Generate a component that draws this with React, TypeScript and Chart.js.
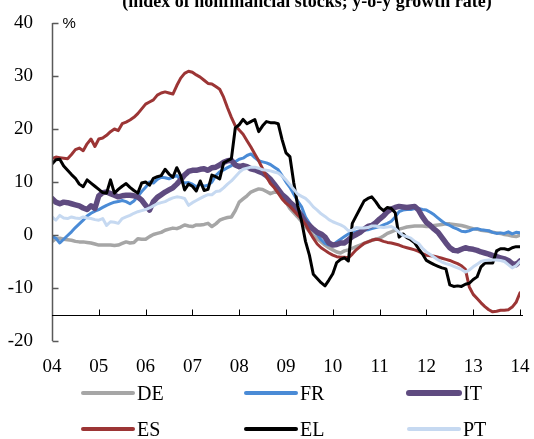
import React, { useEffect, useRef } from "react";
import { Chart, registerables } from "chart.js";

Chart.register(...registerables);

const TITLE = "(index of nonfinancial stocks; y-o-y growth rate)";
const UNIT = "%";
const START_YEAR = 2004;
const X_TICK_LABELS = ["04", "05", "06", "07", "08", "09", "10", "11", "12", "13", "14"];
const Y_MIN = -20;
const Y_MAX = 40;
const Y_STEP = 10;
const X_AXIS_AT = -15;

// Monthly values, Jan 2004 ... Jan 2014
const DE = [
  -1.25, -0.7, -0.6, -0.8, -0.9, -1.0, -1.2, -1.3, -1.3, -1.4, -1.5, -1.7,
  -1.9, -1.9, -1.9, -1.9, -2.0, -1.9, -1.6, -1.3, -1.5, -1.4, -0.7, -0.8,
  -0.8, -0.3, 0.1, 0.3, 0.5, 0.9, 1.1, 1.3, 1.2, 1.5, 1.9, 1.7,
  1.6, 1.9, 1.9, 2.0, 2.2, 1.6, 2.1, 2.8, 3.1, 3.3, 3.4, 4.6,
  6.2, 6.8, 7.4, 8.1, 8.4, 8.7, 8.6, 8.2, 7.8, 8.1, 8.0, 7.2,
  6.2, 5.0, 4.2, 3.4, 2.5, 1.6, 0.7, -0.1, -0.7, -1.3, -1.9, -2.4,
  -2.8, -3.2, -3.4, -3.0, -2.8, -2.5, -2.2, -1.9, -1.6, -1.3, -1.0, -0.8,
  -0.6, -0.2, 0.3, 0.6, 0.9, 1.1, 1.3, 1.5, 1.6, 1.7, 1.7, 1.7,
  1.6, 1.6, 1.8, 1.9, 2.0, 2.1, 2.1, 2.0, 1.9, 1.8, 1.6, 1.4,
  1.2, 1.1, 0.9, 0.8, 0.7, 0.5, 0.4, 0.3, 0.1, 0.0, -0.2, -0.3,
  0.0,
];
const FR = [
  -0.3, -0.6, -1.5, -0.8, -0.1, 0.6, 1.4, 2.1, 2.8, 3.6, 4.1, 4.5,
  4.8, 5.2, 5.6, 5.9, 6.2, 6.3, 6.5, 6.3, 5.9, 6.4, 7.3, 8.2,
  9.0, 10.0, 9.8, 10.5, 10.9, 10.8, 10.6, 10.9, 11.2, 10.4, 9.8, 9.9,
  9.6, 9.1, 9.6, 9.2, 9.4, 10.0, 11.2, 11.9, 12.3, 12.7, 13.1, 13.8,
  14.3, 14.5, 15.0, 15.3, 14.6, 14.0, 13.8, 13.6, 13.3, 12.8, 12.3, 11.2,
  10.0, 9.0, 7.7, 6.4, 5.3, 3.4, 2.2, 1.0, 0.1, -0.9, -1.6, -1.9,
  -1.9, -1.3, -0.8, -0.3, 0.2, 0.5, 0.6, 0.8, 0.9, 1.0, 1.2, 1.4,
  1.6, 1.9, 2.2, 2.6, 3.4, 4.4, 4.7, 4.8, 4.8, 5.0, 5.0, 4.8,
  4.7, 4.3, 3.8, 3.2, 2.6, 2.1, 1.8, 1.4, 1.1, 0.7, 0.6, 0.8,
  1.1, 1.2, 1.0, 0.9, 0.8, 0.5, 0.3, 0.4, 0.3, 0.6, 0.2, 0.5,
  0.4,
];
const IT = [
  6.9, 6.2, 5.9, 6.2, 6.1, 5.9, 5.7, 5.5, 5.1, 4.8, 5.5, 5.0,
  7.4, 8.0, 8.1, 7.8, 7.5, 7.2, 7.4, 7.5, 7.5, 7.4, 7.2, 6.6,
  5.6, 4.7, 6.3, 7.1, 7.6, 8.1, 8.5, 8.9, 9.6, 10.4, 11.3, 12.0,
  12.2, 12.2, 12.4, 12.5, 12.2, 12.7, 12.8, 13.2, 13.7, 14.0, 14.1, 13.2,
  12.9, 13.1, 12.9, 12.5, 12.3, 12.0, 11.7, 11.2, 10.5, 9.6, 8.6, 7.6,
  7.0, 6.2, 5.5, 4.6, 3.6, 2.4, 1.8, 1.1, 0.5, 0.2, -0.4, -1.5,
  -1.9, -1.8, -1.5, -1.5, -0.9, -0.3, 0.1, 0.5, 1.1, 1.6, 1.8, 2.3,
  3.0, 3.6, 4.4, 4.9, 5.2, 5.4, 5.3, 5.2, 5.3, 5.4, 4.7, 3.4,
  2.4, 1.8, 1.1, 0.5, -0.5, -1.5, -2.4, -2.9, -3.0, -2.7, -2.4, -2.6,
  -2.7, -2.9, -3.2, -3.4, -3.6, -3.9, -4.1, -4.3, -4.5, -4.8, -5.4, -5.6,
  -4.9,
];
const ES = [
  14.4, 14.7, 14.6, 14.5, 14.4, 15.2, 16.1, 16.4, 15.9, 17.2, 18.1, 16.7,
  18.1, 18.3, 18.8, 19.5, 20.0, 19.7, 21.0, 21.3, 21.7, 22.2, 22.9, 23.8,
  24.7, 25.1, 25.5, 26.4, 26.8, 27.0, 26.8, 26.6, 28.2, 29.6, 30.5, 30.9,
  30.7, 30.2, 29.8, 29.2, 28.6, 28.5, 28.0, 27.5, 26.0, 24.0, 22.2, 20.6,
  19.8, 19.0, 17.8, 16.6, 15.3, 14.0, 12.5, 11.0, 9.7, 8.9, 7.9, 6.8,
  6.0, 5.4, 4.6, 3.8, 3.0, 2.0, 0.6, -0.6, -1.7, -2.4, -2.9, -3.4,
  -3.8, -4.1, -4.2, -4.2, -4.3, -3.6, -2.8, -2.2, -1.6, -1.3, -1.0, -0.8,
  -0.9, -1.2, -1.4, -1.5, -1.7, -1.9, -2.2, -2.4, -2.6, -2.8, -3.1, -3.5,
  -3.8, -3.9, -4.0, -4.2, -4.4, -4.6, -4.8, -5.1, -5.4, -5.8, -6.5, -9.8,
  -11.2, -12.0, -12.8, -13.5, -14.1, -14.5, -14.4, -14.2, -14.2, -14.1, -13.6, -12.7,
  -10.9,
];
const EL = [
  13.4, 14.2, 14.3, 13.0, 12.2, 11.4, 10.7, 9.6, 9.1, 10.4, 9.8, 9.2,
  8.6, 8.0, 7.9, 10.4, 7.9, 8.6, 9.2, 9.7, 9.0, 8.4, 7.9, 9.8,
  10.0, 9.4, 10.7, 11.0, 11.2, 12.4, 11.5, 10.9, 12.7, 11.2, 8.5, 9.6,
  9.2, 8.3, 10.2, 8.4, 8.6, 11.3, 11.0, 10.6, 13.6, 14.0, 14.4, 20.2,
  20.8, 21.8, 21.0, 21.4, 21.8, 19.5, 20.6, 21.4, 21.2, 21.2, 21.0, 18.0,
  15.5, 14.8, 9.8, 5.5, 2.6, -1.2, -3.8, -7.4, -8.2, -9.0, -9.6, -8.5,
  -7.3, -5.2, -4.6, -4.3, -4.9, 2.2, 3.6, 5.0, 6.4, 6.9, 7.2, 6.3,
  5.2, 4.6, 5.2, 5.0, 4.2, -0.4, 0.2, -0.5, -0.9, -1.5, -2.6, -3.6,
  -4.8, -5.2, -5.6, -5.9, -6.2, -6.4, -9.4, -9.7, -9.6, -9.7, -9.3, -9.1,
  -8.4, -7.9, -6.0, -5.3, -5.3, -5.3, -3.0, -2.6, -2.6, -2.8, -2.4, -2.2,
  -2.2,
];
const PT = [
  3.4, 2.8, 3.7, 3.2, 3.1, 3.4, 3.2, 3.1, 3.4, 3.2, 3.1, 2.9,
  2.8, 3.1, 1.8, 2.5, 2.4, 2.2, 3.1, 3.4, 3.7, 4.1, 4.4, 4.6,
  4.8, 5.1, 5.5, 5.9, 6.1, 6.3, 6.7, 7.0, 7.2, 7.1, 6.9, 5.6,
  6.1, 6.5, 6.9, 7.3, 7.6, 7.6, 8.2, 8.3, 8.9, 9.6, 10.2, 11.0,
  11.8, 12.4, 12.6, 12.8, 12.8, 12.6, 12.3, 12.2, 12.1, 11.9, 11.7, 11.1,
  10.4, 9.5, 8.6, 7.7, 7.3, 6.9, 6.2, 5.3, 4.7, 4.0, 3.5, 2.9,
  2.5, 2.2, 1.9, 1.5, 0.8, 0.9, 1.4, 1.3, 1.3, 1.4, 1.7, 1.7,
  1.5, 1.4, 1.5, 1.6, 1.2, 0.5, -0.1, -0.3, -0.6, -1.2, -1.6, -2.5,
  -3.2, -3.7, -4.2, -4.7, -5.1, -5.4, -5.6, -5.9, -6.2, -6.5, -7.0, -6.6,
  -6.0, -5.5, -5.0, -4.8, -4.7, -4.7, -4.7, -4.8, -5.0, -5.6, -6.2, -5.8,
  -5.0,
];

const SERIES = [
  { label: "DE", values: DE, color: "#a6a6a6", width: 3.5, legendWidth: 4, order: 6 },
  { label: "FR", values: FR, color: "#4a8bd6", width: 3, legendWidth: 4, order: 5 },
  { label: "IT", values: IT, color: "#5f4b80", width: 5.5, legendWidth: 6, order: 4 },
  { label: "ES", values: ES, color: "#9c3535", width: 3, legendWidth: 4, order: 3 },
  { label: "EL", values: EL, color: "#000000", width: 3, legendWidth: 4, order: 2 },
  { label: "PT", values: PT, color: "#c6d9f1", width: 3, legendWidth: 4, order: 1 },
];

const SERIF = "'Liberation Serif', 'Times New Roman', serif";

const decorPlugin = {
  id: "decor",
  afterDraw(chart: any) {
    const { ctx, scales, chartArea } = chart;
    const x = scales.x;
    const y = scales.y;
    ctx.save();

    // y axis line with inward ticks
    const yx = Math.round(chartArea.left) + 0.5;
    ctx.strokeStyle = "#595959";
    ctx.lineWidth = 1.5;
    ctx.beginPath();
    ctx.moveTo(yx, y.getPixelForValue(Y_MAX));
    ctx.lineTo(yx, y.getPixelForValue(Y_MIN));
    for (let v = Y_MIN; v <= Y_MAX; v += Y_STEP) {
      const py = Math.round(y.getPixelForValue(v)) + 0.5;
      ctx.moveTo(yx, py);
      ctx.lineTo(yx + 6, py);
    }
    ctx.stroke();

    // x axis line at -15 with upward ticks
    const ay = Math.round(y.getPixelForValue(X_AXIS_AT)) + 0.5;
    ctx.strokeStyle = "#000";
    ctx.lineWidth = 1;
    ctx.beginPath();
    ctx.moveTo(x.getPixelForValue(START_YEAR), ay);
    ctx.lineTo(x.getPixelForValue(START_YEAR + X_TICK_LABELS.length - 1) + 3, ay);
    for (let i = 1; i < X_TICK_LABELS.length; i++) {
      const px = Math.round(x.getPixelForValue(START_YEAR + i)) + 0.5;
      ctx.moveTo(px, ay);
      ctx.lineTo(px, ay - 6);
    }
    ctx.stroke();

    // unit label
    ctx.fillStyle = "#000";
    ctx.font = "15px 'Liberation Sans', Arial, sans-serif";
    ctx.textAlign = "left";
    ctx.textBaseline = "middle";
    ctx.fillText(UNIT, yx + 10, y.getPixelForValue(Y_MAX) + 1);

    // title (partly cut off at the top)
    ctx.font = "bold 18px " + SERIF;
    ctx.textAlign = "center";
    ctx.textBaseline = "alphabetic";
    ctx.fillText(TITLE, 307, 6.5);

    // legend: 3 columns x 2 rows
    const colX = [83, 246, 409];
    const rowY = [393, 429];
    ctx.font = "20px " + SERIF;
    ctx.textAlign = "left";
    ctx.textBaseline = "middle";
    SERIES.forEach((s, i) => {
      const cx = colX[i % 3];
      const cy = rowY[Math.floor(i / 3)];
      ctx.strokeStyle = s.color;
      ctx.lineWidth = s.legendWidth;
      ctx.lineCap = "round";
      ctx.beginPath();
      ctx.moveTo(cx, cy);
      ctx.lineTo(cx + 50, cy);
      ctx.stroke();
      ctx.fillStyle = "#000";
      ctx.fillText(s.label, cx + 54, cy + 1.5);
    });
    ctx.restore();
  },
};

export default function App() {
  const ref = useRef<HTMLCanvasElement | null>(null);
  useEffect(() => {
    if (!ref.current) return;
    const chart = new Chart(ref.current, {
      type: "line",
      data: {
        datasets: SERIES.map((s) => ({
          label: s.label,
          data: s.values.map((v, i) => ({ x: START_YEAR + i / 12, y: v })),
          borderColor: s.color,
          backgroundColor: s.color,
          borderWidth: s.width,
          pointRadius: 0,
          tension: 0,
          fill: false,
          order: s.order,
          borderJoinStyle: "round",
          borderCapStyle: "round",
        })),
      },
      options: {
        responsive: false,
        animation: false,
        devicePixelRatio: 1,
        layout: { padding: { left: 0, right: 14, top: 23, bottom: 0 } },
        plugins: {
          legend: { display: false },
          title: { display: false },
          tooltip: { enabled: false },
        },
        scales: {
          x: {
            type: "linear",
            min: START_YEAR,
            max: START_YEAR + X_TICK_LABELS.length - 1,
            grid: { display: false, drawTicks: false },
            border: { display: false },
            ticks: {
              stepSize: 1,
              autoSkip: false,
              maxRotation: 0,
              padding: 15,
              color: "#000",
              font: { family: SERIF, size: 19 },
              callback: (v: any) => X_TICK_LABELS[Math.round(Number(v) - START_YEAR)] ?? "",
            },
            afterFit: (s: any) => {
              s.height = 98;
              s.paddingLeft = 0;
              s.paddingRight = 0;
            },
          },
          y: {
            type: "linear",
            min: Y_MIN,
            max: Y_MAX,
            grid: { display: false, drawTicks: false },
            border: { display: false },
            ticks: {
              stepSize: Y_STEP,
              padding: 19,
              color: "#000",
              font: { family: SERIF, size: 19 },
            },
            afterFit: (s: any) => {
              s.width = 52;
              s.paddingTop = 0;
              s.paddingBottom = 0;
            },
          },
        },
      } as any,
      plugins: [decorPlugin],
    });
    return () => chart.destroy();
  }, []);
  return (
    <div style={{ position: "absolute", left: 0, top: 0, width: 534, height: 439 }}>
      <canvas ref={ref} width={534} height={439} style={{ display: "block" }} />
    </div>
  );
}
